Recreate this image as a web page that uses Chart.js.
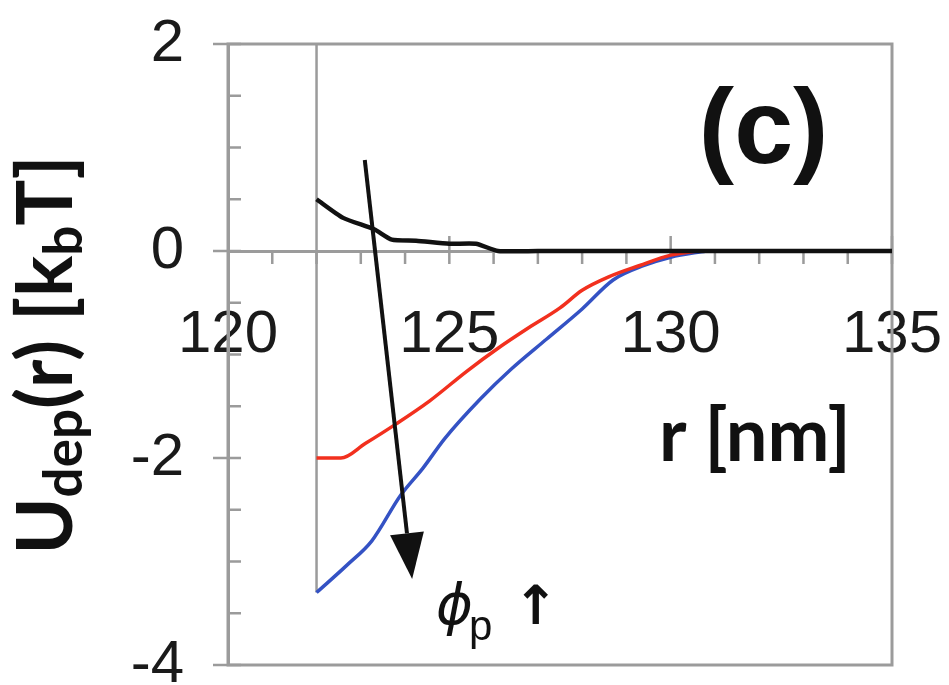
<!DOCTYPE html>
<html>
<head>
<meta charset="utf-8">
<script src="https://cdn.jsdelivr.net/npm/chart.js@4/dist/chart.umd.min.js"></script>
<style>
  html, body { margin: 0; padding: 0; background: #fff; }
</style>
</head>
<body>
<canvas id="chart" width="949" height="685"></canvas>
<script>
// r [nm] and U_dep(r) [kbT]
const blackR = [122, 122.6, 123.3, 123.7, 124.25, 125.0, 125.6, 126.1, 127, 128, 129, 130, 131, 132, 133, 134, 135];
const blackU = [0.50, 0.32, 0.21, 0.11, 0.10, 0.07, 0.07, 0.0, 0, 0, 0, 0, 0, 0, 0, 0, 0];

const redR = [122, 122.55, 123.1, 123.8, 124.55, 125.4, 126.1, 126.8, 127.5, 128.0, 128.6, 129.3, 130.0, 130.6];
const redU = [-2.0, -2.0, -1.86, -1.67, -1.45, -1.16, -0.94, -0.74, -0.55, -0.38, -0.25, -0.14, -0.04, 0];

const blueR = [122, 122.7, 123.25, 123.9, 124.4, 124.9, 125.7, 126.4, 127.2, 128.0, 128.7, 129.4, 130.0, 130.8];
const blueU = [-3.3, -3.03, -2.8, -2.36, -2.1, -1.81, -1.43, -1.14, -0.85, -0.56, -0.28, -0.14, -0.06, 0];

// vertical marker at r = 122
const markR = [122, 122];
const markU = [2, -3.3];

const xTicks = [120, 125, 130, 135];
const yTicks = [-4, -2, 0, 2];

const GRAY = "#9b9b9b";

function pts(xs, ys) {
    return xs.map((x, i) => ({ x: x, y: ys[i] }));
}

function minorList(min, max, step) {
    const out = [];
    for (let v = min; v <= max + 1e-9; v += step) out.push(+v.toFixed(3));
    return out;
}

// frame + tick marks
const framePlugin = {
    id: "frame",
    beforeDatasetsDraw(chart) {
        const { ctx, chartArea: a, scales } = chart;
        const x = scales.x, y = scales.y;
        ctx.save();
        ctx.strokeStyle = GRAY;
        ctx.lineWidth = 3;
        ctx.strokeRect(a.left, a.top, a.right - a.left, a.bottom - a.top);

        ctx.lineWidth = 2.5;
        ctx.beginPath();
        // y ticks
        minorList(-4, 2, 0.5).forEach(v => {
            const py = y.getPixelForValue(v);
            const major = yTicks.includes(v);
            ctx.moveTo(a.left - (major ? 15 : 0), py);
            ctx.lineTo(a.left + 13, py);
        });
        // x ticks, on the zero line
        const y0 = y.getPixelForValue(0);
        minorList(121, 135, 1).forEach(v => {
            const px = x.getPixelForValue(v);
            const major = xTicks.includes(v);
            ctx.moveTo(px, y0 - (major ? 15 : 0));
            ctx.lineTo(px, y0 + 13);
        });
        ctx.stroke();
        ctx.restore();
    }
};

// annotation positions in data units
const arrowFrom = { r: 123.09, u: 0.88 };
const arrowTo = { r: 124.16, u: -3.17 };
const panelPos = { r: 132.1, u: 1.13 };
const xTitlePos = { r: 131.9, u: -1.80 };
const phiPos = { r: 124.7, u: -3.6 };

function richText(ctx, parts, cx, cy) {
    let total = 0;
    parts.forEach(p => { ctx.font = p.f; p.w = ctx.measureText(p.t).width; total += p.w; });
    let x = cx - total / 2;
    ctx.textAlign = "left";
    ctx.textBaseline = "alphabetic";
    parts.forEach(p => {
        ctx.font = p.f;
        ctx.fillText(p.t, x, cy + (p.dy || 0));
        x += p.w;
    });
}

const notesPlugin = {
    id: "notes",
    afterDraw(chart) {
        const { ctx, scales } = chart;
        const X = v => scales.x.getPixelForValue(v);
        const Y = v => scales.y.getPixelForValue(v);
        ctx.save();
        ctx.fillStyle = "#111";
        ctx.strokeStyle = "#111";

        // arrow
        const x0 = X(arrowFrom.r), y0 = Y(arrowFrom.u);
        const x1 = X(arrowTo.r), y1 = Y(arrowTo.u);
        const ang = Math.atan2(y1 - y0, x1 - x0);
        const headL = 46, headW = 17;
        const bx = x1 - headL * Math.cos(ang), by = y1 - headL * Math.sin(ang);
        ctx.lineWidth = 4;
        ctx.beginPath();
        ctx.moveTo(x0, y0);
        ctx.lineTo(bx, by);
        ctx.stroke();
        ctx.beginPath();
        ctx.moveTo(x1, y1);
        ctx.lineTo(bx + headW * Math.sin(ang), by - headW * Math.cos(ang));
        ctx.lineTo(bx - headW * Math.sin(ang), by + headW * Math.cos(ang));
        ctx.closePath();
        ctx.fill();

        // (c)
        ctx.font = "bold 106px 'Liberation Sans'";
        ctx.textAlign = "center";
        ctx.textBaseline = "middle";
        ctx.fillText("(c)", X(panelPos.r), Y(panelPos.u));

        // x title
        ctx.font = "bold 74px Lato";
        ctx.fillText("r [nm]", X(xTitlePos.r), Y(xTitlePos.u));

        // phi_p arrow-up
        ctx.textAlign = "left";
        ctx.textBaseline = "alphabetic";
        const px = X(phiPos.r), py = Y(phiPos.u);
        ctx.font = "italic 56px 'DejaVu Sans'";
        ctx.fillText("\u03D5", px, py);
        const pw = ctx.measureText("\u03D5").width;
        ctx.font = "42px 'Liberation Sans'";
        ctx.fillText("p", px + pw - 4, py + 16);
        ctx.font = "bold 54px 'DejaVu Sans'";
        ctx.fillText("\u2191", px + pw + 40, py);

        // y title, rotated, with subscripts
        ctx.translate(72, 355);
        ctx.rotate(-Math.PI / 2);
        const big = "bold 77px Lato", small = "bold 53px Lato";
        richText(ctx, [
            { t: "U", f: big },
            { t: "dep", f: small, dy: 10 },
            { t: "(r) [k", f: big },
            { t: "b", f: small, dy: 10 },
            { t: "T]", f: big }
        ], 0, 0);
        ctx.restore();
    }
};

const tickFont = { family: "'Liberation Sans', Arial, sans-serif", size: 60 };

new Chart(document.getElementById("chart").getContext("2d"), {
    type: "line",
    data: {
        datasets: [
            { data: pts(blackR, blackU), borderColor: "#111", borderWidth: 4.5, tension: 0.2 },
            { data: pts(redR, redU), borderColor: "#f2301e", borderWidth: 3.5, cubicInterpolationMode: "monotone" },
            { data: pts(blueR, blueU), borderColor: "#3452c4", borderWidth: 3.5, cubicInterpolationMode: "monotone" },
            { data: pts(markR, markU), borderColor: GRAY, borderWidth: 2.5 }
        ]
    },
    options: {
        responsive: false,
        animation: false,
        devicePixelRatio: 1,
        parsing: false,
        elements: { point: { radius: 0 } },
        layout: { padding: { top: 44, right: 57, bottom: 20, left: 0 } },
        plugins: { legend: { display: false }, tooltip: { enabled: false } },
        scales: {
            x: {
                type: "linear",
                axis: "x",
                min: 120,
                max: 135,
                position: { y: 0 },
                grid: { display: false, drawTicks: false },
                border: { display: true, color: GRAY, width: 3 },
                afterBuildTicks: s => { s.ticks = xTicks.map(v => ({ value: v })); },
                afterFit: s => { s.paddingLeft = 0; s.paddingRight = 0; },
                ticks: { font: tickFont, color: "#1a1a1a", padding: 48, maxRotation: 0, minRotation: 0, autoSkip: false }
            },
            y: {
                type: "linear",
                min: -4,
                max: 2,
                position: "left",
                grid: { display: false, drawTicks: false },
                border: { display: true, color: GRAY, width: 3 },
                afterBuildTicks: s => { s.ticks = yTicks.map(v => ({ value: v })); },
                afterFit: s => { s.width = 228; s.paddingTop = 0; s.paddingBottom = 0; },
                ticks: { font: tickFont, color: "#1a1a1a", padding: 44 }
            }
        }
    },
    plugins: [framePlugin, notesPlugin]
});
</script>
</body>
</html>
